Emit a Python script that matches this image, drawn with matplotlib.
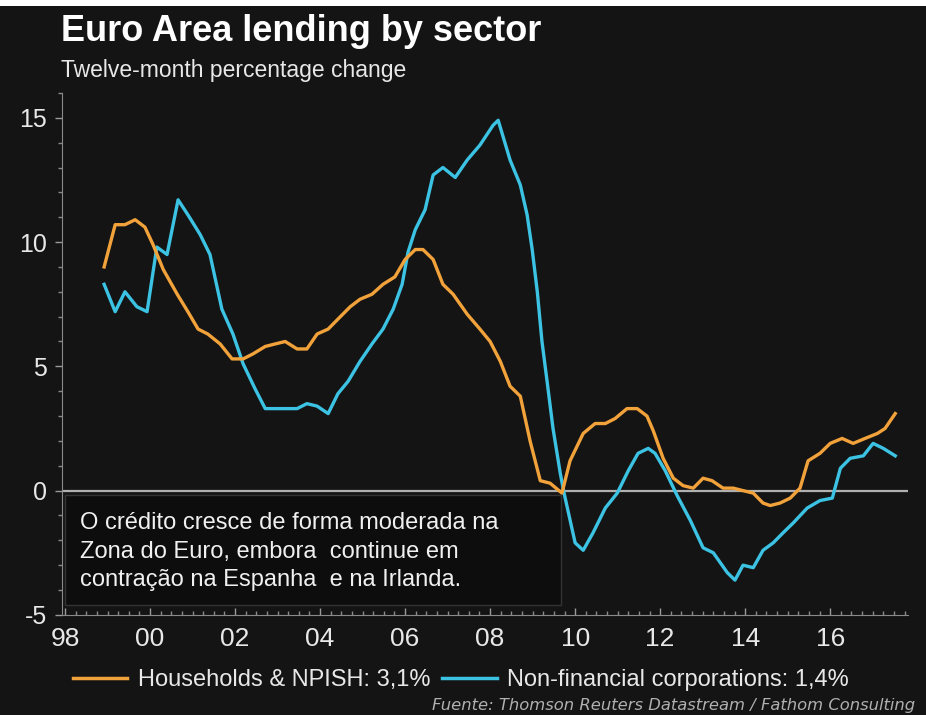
import matplotlib
matplotlib.use("Agg")
import matplotlib.pyplot as plt
from matplotlib.patches import Rectangle
from matplotlib.ticker import MultipleLocator, FixedLocator, FixedFormatter

# Crescimento anual do crédito na Zona do Euro (%), por setor
anos_familias = [1998.92, 1999.18, 1999.41, 1999.65, 1999.88, 2000.07, 2000.31, 2000.64,
                 2000.89, 2001.13, 2001.36, 2001.65, 2001.93, 2002.19, 2002.42, 2002.71,
                 2002.94, 2003.18, 2003.46, 2003.69, 2003.93, 2004.19, 2004.42, 2004.71,
                 2004.94, 2005.22, 2005.48, 2005.76, 2006.00, 2006.24, 2006.42, 2006.66,
                 2006.89, 2007.13, 2007.46, 2007.76, 2008.00, 2008.24, 2008.47, 2008.71,
                 2008.94, 2009.18, 2009.41, 2009.69, 2009.88, 2010.19, 2010.47, 2010.71,
                 2010.94, 2011.22, 2011.46, 2011.69, 2011.84, 2012.07, 2012.31, 2012.54,
                 2012.78, 2013.01, 2013.22, 2013.48, 2013.72, 2013.95, 2014.19, 2014.42,
                 2014.59, 2014.82, 2015.06, 2015.29, 2015.48, 2015.76, 2016.00, 2016.28,
                 2016.54, 2016.82, 2017.11, 2017.29, 2017.53]
familias = [9.0, 10.7, 10.7, 10.9, 10.6, 9.9, 8.9, 7.9,
            7.2, 6.5, 6.3, 5.9, 5.3, 5.3, 5.5, 5.8,
            5.9, 6.0, 5.7, 5.7, 6.3, 6.5, 6.9, 7.4,
            7.7, 7.9, 8.3, 8.6, 9.3, 9.7, 9.7, 9.3,
            8.3, 7.9, 7.1, 6.5, 6.0, 5.2, 4.2, 3.8,
            2.0, 0.4, 0.3, -0.1, 1.2, 2.3, 2.7, 2.7,
            2.9, 3.3, 3.3, 3.0, 2.4, 1.3, 0.5, 0.2,
            0.1, 0.5, 0.4, 0.1, 0.1, 0.0, -0.1, -0.5,
            -0.6, -0.5, -0.3, 0.1, 1.2, 1.5, 1.9, 2.1,
            1.9, 2.1, 2.3, 2.5, 3.1]

anos_empresas = [1998.92, 1999.18, 1999.41, 1999.69, 1999.93, 2000.16, 2000.40, 2000.66,
                 2000.89, 2001.18, 2001.41, 2001.69, 2001.95, 2002.19, 2002.47, 2002.71,
                 2002.99, 2003.22, 2003.46, 2003.69, 2003.93, 2004.19, 2004.42, 2004.66,
                 2004.94, 2005.22, 2005.48, 2005.72, 2005.93, 2006.07, 2006.24, 2006.47,
                 2006.66, 2006.89, 2007.18, 2007.46, 2007.76, 2008.07, 2008.19, 2008.47,
                 2008.71, 2008.87, 2008.99, 2009.11, 2009.22, 2009.34, 2009.48, 2009.65,
                 2009.74, 2010.00, 2010.19, 2010.42, 2010.71, 2010.99, 2011.25, 2011.48,
                 2011.72, 2011.88, 2012.12, 2012.40, 2012.71, 2013.01, 2013.25, 2013.58,
                 2013.76, 2013.95, 2014.19, 2014.42, 2014.66, 2014.89, 2015.13, 2015.46,
                 2015.76, 2016.05, 2016.24, 2016.47, 2016.78, 2017.01, 2017.25, 2017.53]
empresas = [8.3, 7.2, 8.0, 7.4, 7.2, 9.8, 9.5, 11.7,
            11.1, 10.3, 9.5, 7.3, 6.3, 5.1, 4.1, 3.3,
            3.3, 3.3, 3.3, 3.5, 3.4, 3.1, 3.9, 4.4,
            5.2, 5.9, 6.5, 7.3, 8.3, 9.6, 10.5, 11.3,
            12.7, 13.0, 12.6, 13.3, 13.9, 14.7, 14.9, 13.3,
            12.3, 11.1, 9.7, 8.0, 6.0, 4.4, 2.5, 0.7,
            -0.1, -2.1, -2.4, -1.7, -0.7, -0.1, 0.8, 1.5,
            1.7, 1.5, 0.8, -0.2, -1.2, -2.3, -2.5, -3.3,
            -3.6, -3.0, -3.1, -2.4, -2.1, -1.7, -1.3, -0.7,
            -0.4, -0.3, 0.9, 1.3, 1.4, 1.9, 1.7, 1.4]

anos_rotulo = [1998, 2000, 2002, 2004, 2006, 2008, 2010, 2012, 2014, 2016]
rotulos_x = ["98", "00", "02", "04", "06", "08", "10", "12", "14", "16"]

FUNDO = "#141414"
LARANJA = "#f2a23a"
AZUL = "#3cc3e4"

plt.rcParams["font.family"] = ["Liberation Sans", "DejaVu Sans"]
plt.rcParams["axes.unicode_minus"] = False

fig = plt.figure(figsize=(9.26, 7.15), dpi=100, facecolor=FUNDO)
ax = fig.add_axes([0.067, 0.140, 0.914, 0.730])
ax.set_facecolor(FUNDO)

# faixa branca no topo
fig.patches.append(Rectangle((0, 0.992), 1, 0.008, transform=fig.transFigure,
                             facecolor="white", edgecolor="none"))

ax.axhline(0, color="#b0b0b0", lw=1.6, zorder=1)
ax.plot(anos_familias, familias, color=LARANJA, lw=2.4, zorder=3,
        label="Households & NPISH: 3,1%")
ax.plot(anos_empresas, empresas, color=AZUL, lw=2.4, zorder=2,
        label="Non-financial corporations: 1,4%")

ax.set_xlim(1997.93, 2017.84)
ax.set_ylim(-5, 16)

for lado in ["top", "right"]:
    ax.spines[lado].set_visible(False)
ax.spines["left"].set_color("#8a8a8a")
ax.spines["bottom"].set_color("#8a8a8a")

ax.yaxis.set_major_locator(FixedLocator([-5, 0, 5, 10, 15]))
ax.yaxis.set_minor_locator(MultipleLocator(1))
ax.tick_params(axis="y", which="major", colors="#9a9a9a", labelcolor="#e8e8e8",
               labelsize=18, length=5, width=1, pad=6)
ax.tick_params(axis="y", which="minor", colors="#8a8a8a", length=3, width=1)

ax.xaxis.set_major_locator(FixedLocator(anos_rotulo))
ax.xaxis.set_major_formatter(FixedFormatter(rotulos_x))
ax.xaxis.set_minor_locator(MultipleLocator(0.25))
ax.tick_params(axis="x", which="major", direction="in", colors="#9a9a9a",
               labelcolor="#e8e8e8", labelsize=19, length=5, width=1, pad=9)
ax.tick_params(axis="x", which="minor", direction="in", colors="#8a8a8a",
               length=3, width=1)

# caixa de texto com o comentário
ax.add_patch(Rectangle((0.004, 0.019), 0.585, 0.211, transform=ax.transAxes,
                       facecolor="#0d0d0d", edgecolor="#333333", lw=1, zorder=4))
ax.text(0.021, 0.197,
        "O crédito cresce de forma moderada na\n"
        "Zona do Euro, embora  continue em\n"
        "contração na Espanha  e na Irlanda.",
        transform=ax.transAxes, ha="left", va="top", fontsize=17,
        color="#f0f0f0", linespacing=1.38, zorder=5)

fig.text(0.066, 0.956, "Euro Area lending by sector", fontsize=26,
         fontweight="bold", color="white", ha="left", va="center")
fig.text(0.066, 0.901, "Twelve-month percentage change", fontsize=16.5,
         color="#e8e8e8", ha="left", va="center")

leg = fig.legend(loc="center left", bbox_to_anchor=(0.056, 0.049), ncol=2,
                 frameon=False, fontsize=17, handlelength=2.3, handletextpad=0.45,
                 columnspacing=0.5, labelcolor="#e8e8e8")
for linha in leg.get_lines():
    linha.set_linewidth(2.5)

fig.text(0.988, 0.013, "Fuente: Thomson Reuters Datastream / Fathom Consulting",
         family="DejaVu Sans", style="italic", fontsize=11.8, color="#b0b0b0",
         ha="right", va="center")

fig.savefig("out.png", dpi=100, facecolor=FUNDO)
